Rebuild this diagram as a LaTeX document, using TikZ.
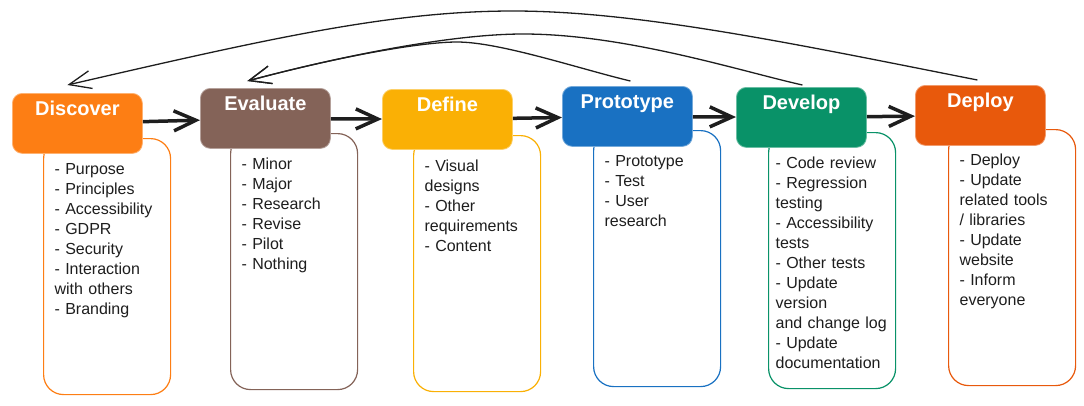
\documentclass[tikz,border=0pt]{standalone}
\usepackage{fontspec}
\setmainfont{Liberation Sans}
\usetikzlibrary{arrows.meta}

\definecolor{ink}{HTML}{1E1E1E}
\definecolor{discover}{HTML}{FD7E14}
\definecolor{evaluate}{HTML}{846358}
\definecolor{define}{HTML}{FAB005}
\definecolor{prototype}{HTML}{1971C2}
\definecolor{develop}{HTML}{099268}
\definecolor{deploy}{HTML}{E8590C}

\tikzset{
    header/.style={fill=#1, draw=#1!60!white, line width=0.8pt, rounded corners=10pt, anchor=north west,
        minimum width=130pt, inner xsep=0pt, inner ysep=0pt, text height=22pt, text depth=38pt,
        text=white, font=\fontsize{20}{24}\selectfont\bfseries},
    listbox/.style={draw=#1, line width=1.2pt, fill=white, rounded corners=20pt, anchor=north west,
        text width=105pt, inner xsep=11pt, inner ysep=0pt, text height=36pt, text depth=220pt,
        align=left, text=ink, font=\fontsize{16}{20}\selectfont},
    flow/.style={line width=3.5pt, ink, -{Straight Barb[length=22pt,width=20pt]}},
    back/.style={line width=1.3pt, ink, -{Straight Barb[length=22pt,width=18pt]}}
}

\begin{document}
\begin{tikzpicture}[x=1pt,y=-1pt]
    \useasboundingbox (0,0) rectangle (1084,405);

    % lists under each step
    \node[listbox=discover] (discoverList) at (43,138) {- Purpose\\- Principles\\- Accessibility\\- GDPR\\- Security\\- Interaction\\with others\\- Branding};
    \node[listbox=evaluate] (evaluateList) at (230,133) {- Minor\\- Major\\- Research\\- Revise\\- Pilot\\- Nothing};
    \node[listbox=define] (defineList) at (413,135) {- Visual\\designs\\- Other\\requirements\\- Content};
    \node[listbox=prototype] (prototypeList) at (593,130) {- Prototype\\- Test\\- User\\research};
    \node[listbox=develop, inner xsep=7pt, text width=113pt] (developList) at (768,132) {- Code review\\- Regression\\testing\\- Accessibility\\tests\\- Other tests\\- Update\\version\\and change log\\- Update\\documentation};
    \node[listbox=deploy] (deployList) at (948,129) {- Deploy\\- Update\\related tools\\/ libraries\\- Update\\website\\- Inform\\everyone};

    % steps
    \node[header=discover] (discover) at (12,93) {Discover};
    \node[header=evaluate] (evaluate) at (200,88) {Evaluate};
    \node[header=define] (define) at (382,89) {Define};
    \node[header=prototype] (prototype) at (562,86) {Prototype};
    \node[header=develop] (develop) at (736,87) {Develop};
    \node[header=deploy] (deploy) at (915,85) {Deploy};

    \draw[flow] (discover) -- (evaluate);
    \draw[flow] (evaluate) -- (define);
    \draw[flow] (define) -- (prototype);
    \draw[flow] (prototype) -- (develop);
    \draw[flow] (develop) -- (deploy);

    % going back
    \draw[back] ([shift={(-3,-5)}]deploy.north) .. controls (800,45) and (640,11) .. (513,11)
        .. controls (390,11) and (267,39) .. ([shift={(-10,-8)}]discover.north);
    \draw[back] ([shift={(1,-2)}]develop.north) .. controls (740,71) and (625,34) .. (523,34)
        .. controls (450,34) and (337,57) .. ([shift={(-18,-7)}]evaluate.north);
    \draw[back] ([shift={(3,-5)}]prototype.north) .. controls (580,69) and (500,42) .. (457,42)
        .. controls (420,42) and (337,57) .. ([shift={(-18,-7)}]evaluate.north);
\end{tikzpicture}
\end{document}
